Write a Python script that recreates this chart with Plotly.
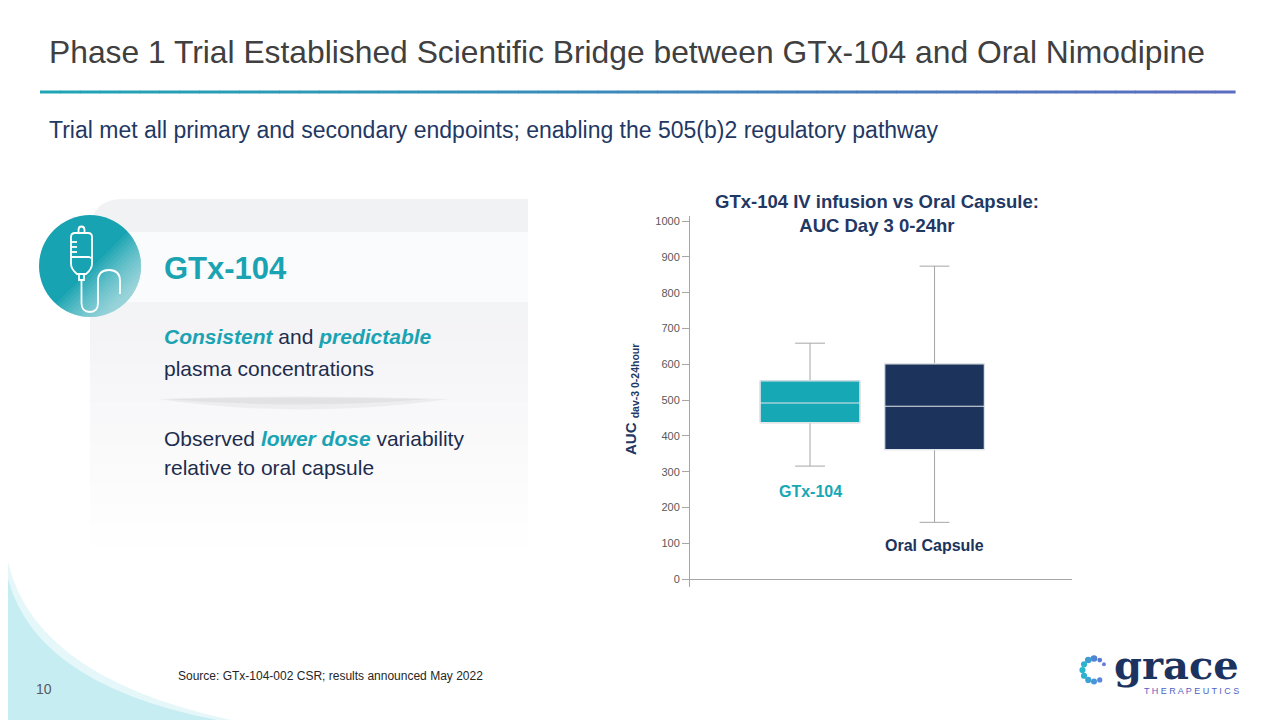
import math
import plotly.graph_objects as go

# ---------------- data ----------------
categories = ["GTx-104", "Oral Capsule"]
q1_vals = [437, 362]
median_vals = [492, 483]
q3_vals = [554, 601]
lower_vals = [316, 159]
upper_vals = [659, 874]
box_colors = ["#17a8b5", "#1c335b"]
label_colors = ["#17a8b5", "#1c335b"]
label_y = [244, 94]
y_ticks = [0, 100, 200, 300, 400, 500, 600, 700, 800, 900, 1000]

W, H = 1280, 720
OFF = 8  # page body margin of the html page
NAVY = "#1f3864"
FONT = "Liberation Sans, Arial, sans-serif"


def px(x):
    return (x - OFF) / W


def py(y):
    return 1 - (y - OFF) / H


def path(cmds):
    out = []
    for c, pts in cmds:
        if c == "Z":
            out.append("Z")
        elif c == "Q":
            for k in range(0, len(pts), 2):
                (ax, ay), (bx, by) = pts[k], pts[k + 1]
                out.append(f"Q{px(ax):.5f},{py(ay):.5f} {px(bx):.5f},{py(by):.5f}")
        else:
            for x, y in pts:
                out.append(f"{c}{px(x):.5f},{py(y):.5f}")
    return " ".join(out)


fig = go.Figure()

# --------------- box plot ----------------
for i, cat in enumerate(categories):
    fig.add_trace(go.Box(
        x=[cat], q1=[q1_vals[i]], median=[median_vals[i]], q3=[q3_vals[i]],
        lowerfence=[lower_vals[i]], upperfence=[upper_vals[i]],
        width=0.8, whiskerwidth=0.3, fillcolor=box_colors[i],
        line=dict(color="#a6a6a6", width=1), boxpoints=False,
        showlegend=False, hoverinfo="skip"))
    fig.add_trace(go.Box(
        x=[cat], q1=[q1_vals[i]], median=[median_vals[i]], q3=[q3_vals[i]],
        lowerfence=[q1_vals[i]], upperfence=[q3_vals[i]],
        width=0.8, whiskerwidth=0, fillcolor=box_colors[i],
        line=dict(color="#e3e7ec", width=1.2), boxpoints=False,
        showlegend=False, hoverinfo="skip"))

shapes = []
annotations = []

# --------------- slide background shapes ----------------
shapes.append(dict(type="path", xref="paper", yref="paper", layer="below",
                   path=path([("M", [(6, 552)]), ("Q", [(28, 685), (262, 726)]),
                              ("L", [(6, 726)]), ("Z", [])]),
                   fillcolor="#e6f7fa", line=dict(width=0)))
shapes.append(dict(type="path", xref="paper", yref="paper", layer="below",
                   path=path([("M", [(6, 570)]), ("Q", [(30, 690), (240, 724)]),
                              ("L", [(6, 724)]), ("Z", [])]),
                   fillcolor="#c6edf2", line=dict(width=0)))

# gradient rule under title
c0 = (32, 165, 181)
c1 = (91, 109, 192)
n = 60
x0, x1 = 40, 1235
for k in range(n):
    t = k / (n - 1)
    col = tuple(int(c0[j] + (c1[j] - c0[j]) * t) for j in range(3))
    xa = x0 + (x1 - x0) * k / n
    xb = x0 + (x1 - x0) * (k + 1) / n + 0.6
    shapes.append(dict(type="rect", xref="paper", yref="paper", layer="below",
                       x0=px(xa), x1=px(xb), y0=py(90.5), y1=py(93.5),
                       fillcolor="rgb(%d,%d,%d)" % col, line=dict(width=0)))

# left panel
shapes.append(dict(type="path", xref="paper", yref="paper", layer="below",
                   path=path([("M", [(90, 232)]), ("Q", [(90, 199), (124, 199)]),
                              ("L", [(528, 199), (528, 302), (90, 302)]), ("Z", [])]),
                   fillcolor="#f1f2f4", line=dict(width=0)))
strips = 12
for k in range(strips):
    t = k / (strips - 1)
    a = (243, 244, 246)
    b = (254, 254, 255)
    col = tuple(int(a[j] + (b[j] - a[j]) * t) for j in range(3))
    ya = 302 + (545 - 302) * k / strips
    yb = 302 + (545 - 302) * (k + 1) / strips + 0.5
    shapes.append(dict(type="rect", xref="paper", yref="paper", layer="below",
                       x0=px(90), x1=px(528), y0=py(ya), y1=py(yb),
                       fillcolor="rgb(%d,%d,%d)" % col, line=dict(width=0)))
shapes.append(dict(type="rect", xref="paper", yref="paper", layer="below",
                   x0=px(100), x1=px(528), y0=py(232), y1=py(302),
                   fillcolor="#fafbfc", line=dict(width=0)))
# separator shadow
shapes.append(dict(type="path", xref="paper", yref="paper", layer="below",
                   path=path([("M", [(158, 399)]), ("Q", [(300, 394), (450, 399)]),
                              ("Q", [(300, 420), (158, 399)]), ("Z", [])]),
                   fillcolor="rgba(0,0,0,0.045)", line=dict(width=0)))
shapes.append(dict(type="path", xref="paper", yref="paper", layer="below",
                   path=path([("M", [(165, 399)]), ("Q", [(300, 396), (430, 399)]),
                              ("Q", [(300, 410), (165, 399)]), ("Z", [])]),
                   fillcolor="rgba(0,0,0,0.04)", line=dict(width=0)))

# teal circle with smooth light bottom-right sheen
CX, CY, R = 90, 266, 51
shapes.append(dict(type="circle", xref="paper", yref="paper", layer="below",
                   x0=px(CX - R), x1=px(CX + R), y0=py(CY - R), y1=py(CY + R),
                   fillcolor="#17a3b1", line=dict(width=0)))
nb = 14
for b_i in range(nb):
    tcut = 0.05 + 0.9 * b_i / nb
    half = math.degrees(math.acos(tcut))
    pts = []
    for s in range(41):
        ang = math.radians(45 - half + 2 * half * s / 40)
        pts.append((CX + R * math.cos(ang), CY + R * math.sin(ang)))
    shapes.append(dict(type="path", xref="paper", yref="paper", layer="below",
                       path=path([("M", [pts[0]]), ("L", pts[1:]), ("Z", [])]),
                       fillcolor="rgba(255,255,255,0.06)", line=dict(width=0)))


# IV bag icon (white outline), offsets from circle centre in pixels
def Z(dx, dy):
    return (CX + dx, CY + dy)


icon_line = dict(color="white", width=1.8)
bag = path([("M", [Z(-19, -29)]), ("Q", [Z(-19, -33), Z(-15, -33)]),
            ("L", [Z(-2, -33)]), ("Q", [Z(2, -33), Z(2, -29)]),
            ("L", [Z(2, -2)]), ("Q", [Z(2, 3), Z(-4, 8)]),
            ("L", [Z(-13, 8)]), ("Q", [Z(-19, 3), Z(-19, -2)]), ("Z", [])])
shapes.append(dict(type="path", xref="paper", yref="paper", path=bag, line=icon_line))
neck = path([("M", [Z(-11, 8)]), ("L", [Z(-11, 14), Z(-6, 14), Z(-6, 8)])])
shapes.append(dict(type="path", xref="paper", yref="paper", path=neck, line=icon_line))
hook = path([("M", [Z(-11.5, -33)]), ("L", [Z(-11.5, -36)]), ("Q", [Z(-11.5, -39.5), Z(-8.5, -39.5)]),
             ("Q", [Z(-5.5, -39.5), Z(-5.5, -36)]), ("L", [Z(-5.5, -33)])])
shapes.append(dict(type="path", xref="paper", yref="paper", path=hook, line=icon_line))
for dy in (-24, -19, -14):
    shapes.append(dict(type="path", xref="paper", yref="paper",
                       path=path([("M", [Z(-19, dy)]), ("L", [Z(-13, dy)])]), line=icon_line))
shapes.append(dict(type="path", xref="paper", yref="paper",
                   path=path([("M", [Z(-19, -9)]), ("L", [Z(-1, -9), Z(1, -8)])]),
                   line=icon_line))
tube = path([("M", [Z(-8.5, 14)]), ("L", [Z(-8.5, 37)]),
             ("Q", [Z(-8.5, 46), Z(0, 46)]), ("Q", [Z(8, 46), Z(8, 37)]),
             ("L", [Z(8, 15)]), ("Q", [Z(8, 4), Z(19, 4)]),
             ("Q", [Z(30, 4), Z(30, 15)]), ("L", [Z(30, 28)])])
shapes.append(dict(type="path", xref="paper", yref="paper", path=tube, line=icon_line))

# logo dots ring
LX, LY, LR = 1094, 670, 11.5
dot_angles = [-60, -90, -120, -150, 180, 150, 120, 90, 60, -30]
dot_cols = ["#5b78d6", "#4f86d4", "#3f9ed0", "#2fb2ce", "#29b6cc",
            "#2fb0d0", "#3aa4d6", "#4a94da", "#5b86dc", "#6a7fdc"]
dot_r = [2.4, 3.3, 3.3, 3.1, 3.1, 3.1, 3.1, 3.0, 2.6, 2.0]
for a, c, r in zip(dot_angles, dot_cols, dot_r):
    cx = LX + LR * math.cos(math.radians(a))
    cy = LY + LR * math.sin(math.radians(a))
    shapes.append(dict(type="circle", xref="paper", yref="paper",
                       x0=px(cx - r), x1=px(cx + r), y0=py(cy - r), y1=py(cy + r),
                       fillcolor=c, line=dict(width=0)))


# --------------- text ----------------
def txt(x, y, text, size, color, anchor="left", bold=False, family=FONT, **kw):
    annotations.append(dict(
        x=px(x), y=py(y), xref="paper", yref="paper", text=("<b>%s</b>" % text) if bold else text,
        showarrow=False, xanchor=anchor, yanchor="middle",
        font=dict(size=size, color=color, family=family), **kw))


txt(47, 52, "Phase 1 Trial Established Scientific Bridge between GTx-104 and Oral Nimodipine",
    31.8, "#404040")
txt(47, 130, "Trial met all primary and secondary endpoints; enabling the 505(b)2 regulatory pathway",
    23, NAVY)
txt(162, 268, "GTx-104", 31, "#1aa3b2", bold=True)
hl = "<span style='color:#1aa3b2'><b><i>%s</i></b></span>"
body = "#1e2d4d"
txt(162, 337, hl % "Consistent" + " and " + hl % "predictable", 21, body)
txt(162, 368, "plasma concentrations", 21, body)
txt(162, 438, "Observed " + hl % "lower dose" + " variability", 21, body)
txt(162, 468, "relative to oral capsule", 21, body)
txt(176, 676, "Source: GTx-104-002 CSR; results announced May 2022", 12, "#262626")
txt(34, 689, "10", 14, "#595959")
txt(1176, 664, "grace", 40, "#1c3360", anchor="center", bold=True, family="DejaVu Serif")
txt(1191, 691, "T H E R A P E U T I C S", 9, "#4f63c4", anchor="center")

# chart titles
txt(877, 213, "GTx-104 IV infusion vs Oral Capsule:<br>AUC Day 3 0-24hr", 18.5, NAVY,
    anchor="center", bold=True)
annotations.append(dict(x=px(632), y=py(400), xref="paper", yref="paper",
                        text="<b>AUC <sub>dav-3 0-24hour</sub></b>", textangle=-90,
                        showarrow=False, xanchor="center", yanchor="middle",
                        font=dict(size=15, color=NAVY, family=FONT)))
for i, cat in enumerate(categories):
    annotations.append(dict(x=cat, y=label_y[i], xref="x", yref="y", text="<b>%s</b>" % cat,
                            showarrow=False, xanchor="center", yanchor="middle",
                            font=dict(size=16, color=label_colors[i], family=FONT)))

fig.update_layout(
    width=W, height=H, margin=dict(l=0, r=0, t=0, b=0),
    paper_bgcolor="white", plot_bgcolor="rgba(0,0,0,0)",
    boxmode="overlay", showlegend=False,
    shapes=shapes, annotations=annotations,
    xaxis=dict(domain=[(690 - OFF) / W, (1072 - OFF) / W], type="category",
               range=[-0.964, 2.104],
               showticklabels=False, ticks="", showline=False, showgrid=False,
               zeroline=False, fixedrange=True),
    yaxis=dict(domain=[(H - (587 - OFF)) / H, (H - (215.7 - OFF)) / H], range=[-21.5, 1014.8],
               tickvals=y_ticks, ticks="outside", ticklen=7, tickcolor="#a6a6a6",
               tickwidth=1, showline=True, linecolor="#a6a6a6", linewidth=1,
               zeroline=True, zerolinecolor="#a6a6a6", zerolinewidth=1,
               showgrid=False, tickfont=dict(size=11, color="#595959", family=FONT),
               fixedrange=True),
)

fig.write_html("out.html")
